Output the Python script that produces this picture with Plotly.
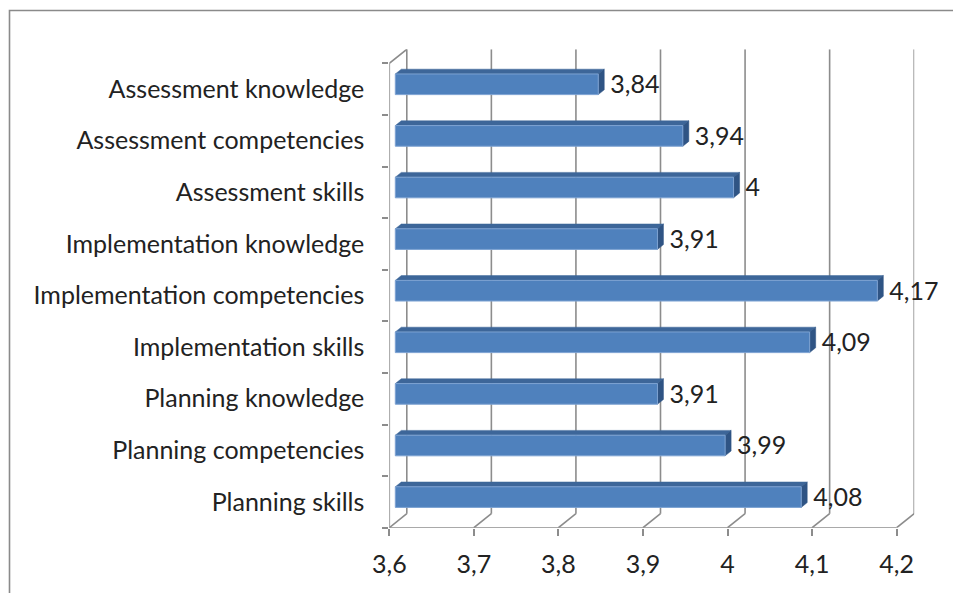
import plotly.graph_objects as go

# ---------------- data ----------------
categories = [
    "Planning skills", "Planning competencies", "Planning knowledge",
    "Implementation skills", "Implementation competencies", "Implementation knowledge",
    "Assessment skills", "Assessment competencies", "Assessment knowledge",
]
values = [4.08, 3.99, 3.91, 4.09, 4.17, 3.91, 4.00, 3.94, 3.84]
value_labels = ["4,08", "3,99", "3,91", "4,09", "4,17", "3,91", "4", "3,94", "3,84"]
x_ticks = [3.6, 3.7, 3.8, 3.9, 4.0, 4.1, 4.2]
x_tick_labels = ["3,6", "3,7", "3,8", "3,9", "4", "4,1", "4,2"]

# ---------------- geometry / style ----------------
W, H = 953, 593
FONT = "Lato"
FS = 25
TXT = "#222222"
GRID = "#8c8c8c"
X_LO, X_HI = x_ticks[0], x_ticks[-1]
n = len(categories)
front_left_px, front_right_px = 389.3, 896.7
front_bottom_px, front_top_px = 527.7, 63.3
depth_dx_px, depth_dy_px = 17.5, 14.0
px_per_x = (front_right_px - front_left_px) / (X_HI - X_LO)
px_per_cat = (front_bottom_px - front_top_px) / n
DX = depth_dx_px / px_per_x
DY = depth_dy_px / px_per_cat
BAR_FRONT = 6.0 / depth_dx_px
BAR_BACK = 12.0 / depth_dx_px
HALF = 0.2
LABEL_GAP = 6.0 / px_per_x

fig = go.Figure()

# walls / gridlines (3-D frame)
wx, wy = [], []
for t in x_ticks:
    wx += [t + DX, t + DX, None, t, t + DX, None]
    wy += [-0.5 + DY, n - 0.5 + DY, None, -0.5, -0.5 + DY, None]
wx += [X_LO, X_HI, None, X_LO, X_LO, X_LO + DX]
wy += [-0.5, -0.5, None, -0.5, n - 0.5, n - 0.5 + DY]
fig.add_trace(go.Scatter(x=wx, y=wy, mode="lines", line=dict(color=GRID, width=1.6),
                         hoverinfo="skip", showlegend=False))

# bars (front, top, side faces)
fx, fy = BAR_FRONT * DX, BAR_FRONT * DY
bx, by = BAR_BACK * DX, BAR_BACK * DY
front_x, front_y, top_x, top_y, side_x, side_y = [], [], [], [], [], []
for i, v in enumerate(values):
    lo, hi = i - HALF, i + HALF
    front_x += [X_LO + fx, v + fx, v + fx, X_LO + fx, X_LO + fx, None]
    front_y += [lo + fy, lo + fy, hi + fy, hi + fy, lo + fy, None]
    top_x += [X_LO + fx, v + fx, v + bx, X_LO + bx, X_LO + fx, None]
    top_y += [hi + fy, hi + fy, hi + by, hi + by, hi + fy, None]
    side_x += [v + fx, v + bx, v + bx, v + fx, v + fx, None]
    side_y += [lo + fy, lo + by, hi + by, hi + fy, lo + fy, None]

fig.add_trace(go.Scatter(x=top_x, y=top_y, fill="toself", fillcolor="#3d6699",
                         mode="lines", line=dict(color="#3d6699", width=0.5),
                         hoverinfo="skip", showlegend=False))
fig.add_trace(go.Scatter(x=side_x, y=side_y, fill="toself", fillcolor="#2f5484",
                         mode="lines", line=dict(color="#2f5484", width=0.5),
                         hoverinfo="skip", showlegend=False))
fig.add_trace(go.Scatter(x=front_x, y=front_y, fill="toself", fillcolor="#4f81bd",
                         mode="lines", line=dict(color="#7da2d2", width=1),
                         hoverinfo="skip", showlegend=False))

# value labels
fig.add_trace(go.Scatter(
    x=[v + bx + LABEL_GAP for v in values], y=[i + fy - 0.05 for i in range(n)],
    mode="text", text=value_labels, textposition="middle right",
    textfont=dict(family=FONT, size=FS, color=TXT),
    hoverinfo="skip", showlegend=False, cliponaxis=False))

fig.update_layout(
    template="none",
    width=W, height=H,
    margin=dict(l=0, r=0, t=0, b=0, pad=0),
    paper_bgcolor="white", plot_bgcolor="white",
    showlegend=False,
    font=dict(family=FONT, size=FS, color=TXT),
    xaxis=dict(
        automargin=False,
        domain=[front_left_px / W, (front_right_px + depth_dx_px) / W],
        range=[X_LO, X_HI + DX],
        tickmode="array", tickvals=x_ticks, ticktext=x_tick_labels,
        ticks="outside", ticklen=7, tickwidth=1.6, tickcolor=GRID,
        ticklabelstandoff=7,
        showgrid=False, zeroline=False, showline=False,
        tickfont=dict(family=FONT, size=FS, color=TXT),
    ),
    yaxis=dict(
        automargin=False,
        domain=[1 - front_bottom_px / H, 1 - (front_top_px - depth_dy_px) / H],
        range=[-0.5, n - 0.5 + DY],
        tickmode="array", tickvals=list(range(n)), ticktext=categories,
        ticks="outside", ticklen=6, tickcolor="rgba(0,0,0,0)",
        ticklabelstandoff=13,
        minor=dict(tickmode="array", tickvals=[k - 0.5 for k in range(n + 1)],
                   ticks="outside", ticklen=6, tickwidth=1.6, tickcolor=GRID,
                   showgrid=False),
        showgrid=False, zeroline=False, showline=False,
        tickfont=dict(family=FONT, size=FS, color=TXT),
    ),
    shapes=[dict(type="rect", xref="paper", yref="paper",
                 x0=9.5 / W, x1=1.05, y0=-0.05, y1=1 - 10.5 / H,
                 line=dict(color="#8a8a8a", width=1.6), fillcolor="rgba(0,0,0,0)",
                 layer="below")],
)

fig.write_html("out.html", config={"displayModeBar": False},
               post_script="document.body.style.margin='0';")
